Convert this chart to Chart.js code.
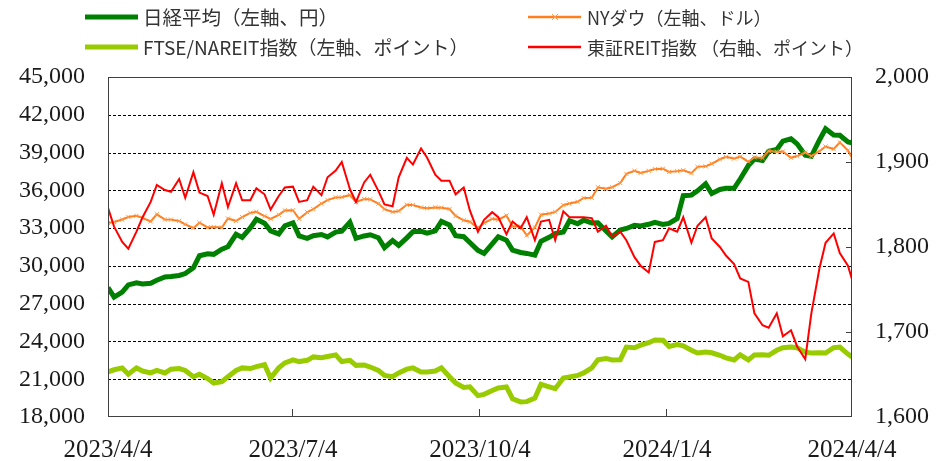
<!DOCTYPE html>
<html>
<head>
<meta charset="utf-8">
<script src="https://cdn.jsdelivr.net/npm/chart.js@4"></script>
<style>
  html, body { margin: 0; padding: 0; background: #fff; }
  #wrap { width: 937px; height: 461px; position: relative; }
</style>
</head>
<body>
<div id="wrap"><canvas id="grafico"></canvas></div>
<script>
// dates sampled twice a week
const dates = [
  '2023-04-04','2023-04-07','2023-04-11','2023-04-14','2023-04-18','2023-04-21','2023-04-25','2023-04-28',
  '2023-05-02','2023-05-05','2023-05-09','2023-05-12','2023-05-16','2023-05-19','2023-05-23','2023-05-26','2023-05-30',
  '2023-06-02','2023-06-06','2023-06-09','2023-06-13','2023-06-16','2023-06-20','2023-06-23','2023-06-27','2023-06-30',
  '2023-07-04','2023-07-07','2023-07-11','2023-07-14','2023-07-18','2023-07-21','2023-07-25','2023-07-28',
  '2023-08-01','2023-08-04','2023-08-08','2023-08-11','2023-08-15','2023-08-18','2023-08-22','2023-08-25','2023-08-29',
  '2023-09-01','2023-09-05','2023-09-08','2023-09-12','2023-09-15','2023-09-19','2023-09-22','2023-09-26','2023-09-29',
  '2023-10-03','2023-10-06','2023-10-10','2023-10-13','2023-10-17','2023-10-20','2023-10-24','2023-10-27','2023-10-31',
  '2023-11-03','2023-11-07','2023-11-10','2023-11-14','2023-11-17','2023-11-21','2023-11-24','2023-11-28',
  '2023-12-01','2023-12-05','2023-12-08','2023-12-12','2023-12-15','2023-12-19','2023-12-22','2023-12-26','2023-12-29',
  '2024-01-02','2024-01-05','2024-01-09','2024-01-12','2024-01-16','2024-01-19','2024-01-23','2024-01-26','2024-01-30',
  '2024-02-02','2024-02-06','2024-02-09','2024-02-13','2024-02-16','2024-02-20','2024-02-23','2024-02-27',
  '2024-03-01','2024-03-05','2024-03-08','2024-03-12','2024-03-15','2024-03-19','2024-03-22','2024-03-26','2024-03-29',
  '2024-04-02','2024-04-04'
];

const nikkei = [
  28287,27518,27923,28493,28658,28564,28620,28856,
  29123,29157,29242,29388,29843,30808,30957,30916,31328,
  31524,32506,32265,33018,33706,33388,32781,32538,33189,
  33422,32388,32189,32391,32493,32304,32682,32759,
  33476,32192,32377,32473,32238,31450,32010,31624,32227,
  32710,32744,32606,32776,33533,33242,32402,32315,31857,
  31237,30994,31746,32315,32040,31259,31062,30991,30858,
  31950,32272,32568,32695,33585,33354,33625,33408,
  33431,32776,32307,32843,32970,33219,33169,33305,33464,
  33288,33377,33763,35577,35619,35963,36517,35751,36065,
  36158,36160,36897,37963,38487,38364,39098,39239,
  39910,40097,39688,38797,38707,40003,40888,40398,40369,
  39838,39773
];

const nyDow = [
  33402,33485,33684,33886,33976,33809,33531,34098,
  33684,33674,33561,33300,33012,33426,33055,33093,33043,
  33762,33573,33876,34212,34299,33951,33727,34053,34407,
  34418,33734,34261,34509,34951,35228,35438,35459,
  35630,35066,35314,35281,34946,34500,34288,34346,34853,
  34838,34642,34577,34646,34618,34518,33964,33618,33507,
  33002,33407,33739,33670,33997,33127,33141,32418,33052,
  34061,34152,34283,34828,34947,35088,35390,35416,
  36245,36124,36247,36577,37306,37557,37385,37545,37690,
  37715,37466,37525,37593,37361,37863,37905,38109,38467,
  38654,38521,38671,38273,38628,38564,39131,39069,
  39087,38585,38723,39005,38715,39110,39476,39282,39807,
  39170,38597
];

const ftseNareit = [
  21580,21750,21900,21400,21900,21650,21500,21700,
  21500,21800,21850,21700,21200,21400,21050,20700,20800,
  21200,21700,21900,21850,22000,22150,21100,21900,22300,
  22530,22400,22500,22770,22700,22800,22930,22400,
  22500,22100,22130,21970,21700,21300,21200,21500,21800,
  21900,21580,21580,21650,21900,21200,20700,20350,20400,
  19700,19800,20100,20310,20390,19450,19200,19220,19500,
  20600,20400,20250,21100,21180,21300,21500,21900,
  22550,22650,22530,22550,23550,23500,23700,23900,24120,
  24100,23600,23750,23650,23300,23080,23160,23100,22900,
  22700,22530,22930,22530,22930,22950,22900,23300,
  23500,23560,23500,23150,23080,23100,23080,23500,23550,
  23000,22770
];

const tseReit = [
  1846,1824,1806,1798,1818,1835,1853,1873,
  1867,1865,1880,1858,1888,1864,1860,1838,1875,
  1847,1875,1855,1855,1869,1862,1844,1860,1870,
  1871,1853,1855,1871,1861,1882,1890,1900,
  1868,1853,1876,1885,1866,1850,1848,1882,1905,
  1897,1916,1905,1885,1878,1878,1862,1870,1843,
  1818,1832,1841,1835,1815,1830,1822,1835,1808,
  1830,1832,1808,1842,1835,1835,1835,1834,
  1818,1825,1812,1818,1808,1788,1778,1770,1806,
  1808,1822,1818,1835,1805,1825,1835,1810,1800,
  1790,1780,1763,1759,1722,1708,1705,1722,
  1695,1702,1683,1668,1722,1775,1805,1816,1793,
  1778,1762
];

const xTickDates = ['2023-04-04','2023-07-04','2023-10-04','2024-01-04','2024-04-04'];
const xTickLabels = ['2023/4/4','2023/7/4','2023/10/4','2024/1/4','2024/4/4'];
const leftMin = 18000, leftMax = 45000, leftStep = 3000;
const rightMin = 1600, rightMax = 2000, rightStep = 100;

const legendLabels = ['日経平均（左軸、円）', 'NYダウ（左軸、ドル）', 'FTSE/NAREIT指数（左軸、ポイント）', '東証REIT指数 （右軸、ポイント）'];

function diasDesde(d) {
  return Math.round((Date.parse(d) - Date.parse(dates[0])) / 86400000);
}
function serie(valores) {
  return valores.map((v, i) => ({ x: diasDesde(dates[i]), y: v }));
}
const xTickDias = xTickDates.map(diasDesde);

// legenda em grade 2x2
const legendaPlugin = {
  id: 'legenda',
  afterDraw(chart) {
    const ctx = chart.ctx;
    const pos = [[85, 17], [528, 17], [85, 47], [528, 47]];
    const tam = [19.5, 18, 19, 18];
    ctx.save();
    pos.forEach(([x, y], i) => {
      const ds = chart.data.datasets[i];
      ctx.strokeStyle = ds.borderColor;
      ctx.lineWidth = ds.legendWidth;
      ctx.beginPath();
      ctx.moveTo(x, y);
      ctx.lineTo(x + 53, y);
      ctx.stroke();
      if (ds.pointRadius > 0) {
        ctx.strokeStyle = ds.pointBorderColor;
        ctx.lineWidth = 1;
        ctx.beginPath();
        ctx.moveTo(x + 24, y - 3); ctx.lineTo(x + 30, y + 3);
        ctx.moveTo(x + 30, y - 3); ctx.lineTo(x + 24, y + 3);
        ctx.stroke();
      }
      ctx.fillStyle = '#333';
      ctx.font = tam[i] + 'px "Noto Sans CJK JP", "Noto Sans", sans-serif';
      ctx.textBaseline = 'middle';
      ctx.fillText(legendLabels[i], x + (i % 2 ? 59 : 58), y + 1);
    });
    ctx.restore();
  }
};

// grade tracejada, moldura e marcas internas
const molduraPlugin = {
  id: 'moldura',
  beforeDatasetsDraw(chart) {
    const { ctx, chartArea: a, scales } = chart;
    ctx.save();
    ctx.strokeStyle = '#000';
    ctx.lineWidth = 1;
    ctx.setLineDash([3, 2]);
    ctx.beginPath();
    for (let v = leftMin + leftStep; v < leftMax; v += leftStep) {
      const py = Math.round(scales.y.getPixelForValue(v)) + 0.5;
      ctx.moveTo(a.left, py);
      ctx.lineTo(a.right, py);
    }
    ctx.stroke();
    ctx.restore();
  },
  afterDatasetsDraw(chart) {
    const { ctx, chartArea: a, scales } = chart;
    ctx.save();
    ctx.strokeStyle = '#404040';
    ctx.lineWidth = 1;
    ctx.strokeRect(a.left + 0.5, a.top + 0.5, a.right - a.left - 1, a.bottom - a.top - 1);
    ctx.beginPath();
    xTickDias.slice(1).forEach(d => {
      const px = Math.round(scales.x.getPixelForValue(d)) - 0.5;
      ctx.moveTo(px, a.bottom);
      ctx.lineTo(px, a.bottom - 8);
    });
    for (let v = rightMin + rightStep; v < rightMax; v += rightStep) {
      const py = Math.round(scales.y2.getPixelForValue(v)) + 0.5;
      ctx.moveTo(a.right, py);
      ctx.lineTo(a.right - 6, py);
    }
    ctx.stroke();
    ctx.restore();
  }
};

const fonteEixo = { family: '"Liberation Serif", "DejaVu Serif", serif', size: 24 };

new Chart(document.getElementById('grafico'), {
  type: 'line',
  data: {
    datasets: [
      { label: legendLabels[0], data: serie(nikkei), yAxisID: 'y', borderColor: '#008000',
        borderWidth: 5, legendWidth: 5, pointRadius: 0, order: 2 },
      { label: legendLabels[1], data: serie(nyDow), yAxisID: 'y', borderColor: '#FF7F1E',
        borderWidth: 2, legendWidth: 2.5, pointRadius: 3, pointStyle: 'crossRot',
        pointBorderWidth: 1, pointBorderColor: '#FF9A4A', order: 1 },
      { label: legendLabels[2], data: serie(ftseNareit), yAxisID: 'y', borderColor: '#99CC00',
        borderWidth: 5, legendWidth: 5, pointRadius: 0, order: 3 },
      { label: legendLabels[3], data: serie(tseReit), yAxisID: 'y2', borderColor: '#FF0000',
        borderWidth: 2, legendWidth: 2.5, pointRadius: 0, order: 0 }
    ]
  },
  options: {
    responsive: true,
    maintainAspectRatio: false,
    animation: false,
    layout: { padding: { top: 77, left: 0, right: 0, bottom: 0 } },
    elements: { line: { tension: 0 } },
    plugins: { legend: { display: false }, tooltip: { enabled: false } },
    scales: {
      x: {
        type: 'linear',
        min: 0,
        max: xTickDias[xTickDias.length - 1],
        afterBuildTicks: s => { s.ticks = xTickDias.map(v => ({ value: v })); },
        afterFit: s => { s.height = 44; },
        grid: { display: false, drawTicks: false },
        border: { display: false },
        ticks: {
          padding: 18,
          color: '#1a1a1a',
          font: { family: fonteEixo.family, size: 25 },
          maxRotation: 0,
          autoSkip: false,
          callback: v => xTickLabels[xTickDias.indexOf(v)]
        }
      },
      y: {
        position: 'left',
        min: leftMin,
        max: leftMax,
        afterFit: s => { s.width = 108; },
        grid: { display: false, drawTicks: false },
        border: { display: false },
        ticks: {
          stepSize: leftStep,
          padding: 23,
          color: '#1a1a1a',
          font: fonteEixo,
          callback: v => v.toLocaleString('en-US')
        }
      },
      y2: {
        position: 'right',
        min: rightMin,
        max: rightMax,
        afterFit: s => { s.width = 85; },
        grid: { display: false, drawTicks: false },
        border: { display: false },
        ticks: {
          stepSize: rightStep,
          padding: 23,
          color: '#1a1a1a',
          font: fonteEixo,
          callback: v => v.toLocaleString('en-US')
        }
      }
    }
  },
  plugins: [legendaPlugin, molduraPlugin]
});
</script>
</body>
</html>
